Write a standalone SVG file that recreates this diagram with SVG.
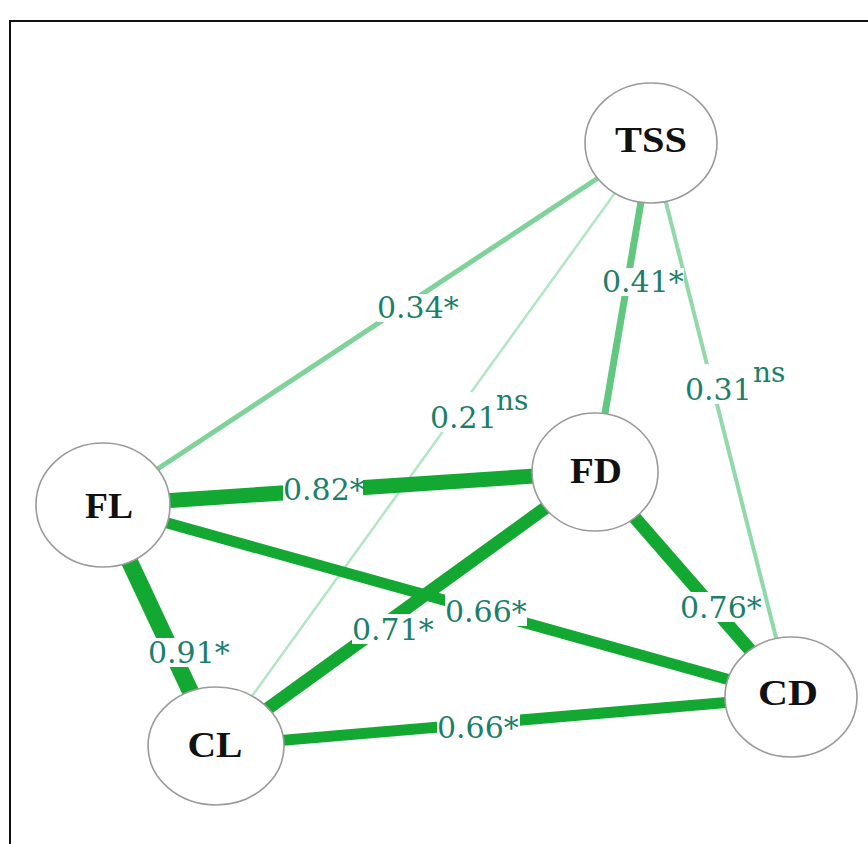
<svg xmlns="http://www.w3.org/2000/svg" width="868" height="844" viewBox="0 0 868 844">
<style>
.e{fill:none;stroke-linecap:butt}
.lbl{font-family:"DejaVu Serif","Liberation Serif",serif;font-size:30px;fill:#1b7f6b}
.sup{font-family:"DejaVu Serif","Liberation Serif",serif;font-size:28px;fill:#1b7f6b}
.bg{fill:#ffffff}
.node ellipse{fill:#ffffff;stroke:#9a9a9a;stroke-width:1.6}
.node text{font-family:"Liberation Serif","Times New Roman",serif;font-weight:bold;font-size:35px;fill:#111111;text-anchor:middle}
</style>
<rect x="0" y="0" width="868" height="844" fill="#ffffff"/>
<path d="M10,844 V21 H868" fill="none" stroke="#111111" stroke-width="2"/>
<g id="connectors">
  <line class="e" x1="651" y1="143" x2="216" y2="746" stroke="#b2e6c2" stroke-width="2.5"/>
  <line class="e" x1="651" y1="143" x2="791" y2="697" stroke="#92d9a9" stroke-width="4"/>
  <line class="e" x1="651" y1="143" x2="103" y2="505" stroke="#7fd39a" stroke-width="5"/>
  <line class="e" x1="651" y1="143" x2="595" y2="472" stroke="#62c880" stroke-width="7"/>
  <line class="e" x1="103" y1="505" x2="595" y2="472" stroke="#12a832" stroke-width="15"/>
  <line class="e" x1="103" y1="505" x2="791" y2="697" stroke="#12a832" stroke-width="11"/>
  <line class="e" x1="103" y1="505" x2="216" y2="746" stroke="#12a832" stroke-width="17"/>
  <line class="e" x1="595" y1="472" x2="216" y2="746" stroke="#12a832" stroke-width="13"/>
  <line class="e" x1="595" y1="472" x2="791" y2="697" stroke="#12a832" stroke-width="13"/>
  <line class="e" x1="216" y1="746" x2="791" y2="697" stroke="#12a832" stroke-width="11"/>
  <g id="edge-labels">
    <rect class="bg" x="377" y="294" width="83" height="28"/>
    <text class="lbl" x="377" y="318">0.34*</text>
    <rect class="bg" x="430" y="392" width="100" height="40"/>
    <text class="lbl" x="430" y="428">0.21</text>
    <text class="sup" x="496" y="410">ns</text>
    <rect class="bg" x="602" y="268" width="82" height="28"/>
    <text class="lbl" x="602" y="292">0.41*</text>
    <rect class="bg" x="685" y="364" width="101" height="40"/>
    <text class="lbl" x="685" y="400">0.31</text>
    <text class="sup" x="753" y="382">ns</text>
    <rect class="bg" x="283" y="474" width="80" height="30"/>
    <text class="lbl" x="283" y="500">0.82*</text>
    <rect class="bg" x="148" y="638" width="82" height="29"/>
    <text class="lbl" x="148" y="663">0.91*</text>
    <rect class="bg" x="352" y="614" width="83" height="30"/>
    <text class="lbl" x="352" y="640">0.71*</text>
    <rect class="bg" x="445" y="595" width="82" height="31"/>
    <text class="lbl" x="445" y="622">0.66*</text>
    <rect class="bg" x="680" y="592" width="82" height="30"/>
    <text class="lbl" x="680" y="618">0.76*</text>
    <rect class="bg" x="437" y="712" width="83" height="30"/>
    <text class="lbl" x="437" y="738">0.66*</text>
  </g>
</g>
<g id="node-TSS" class="node">
  <ellipse cx="651" cy="143" rx="66" ry="60"/>
  <text x="651" y="152" textLength="72" lengthAdjust="spacingAndGlyphs">TSS</text>
</g>
<g id="node-FL" class="node">
  <ellipse cx="103" cy="505" rx="67" ry="62"/>
  <text x="109" y="518" textLength="48" lengthAdjust="spacingAndGlyphs">FL</text>
</g>
<g id="node-FD" class="node">
  <ellipse cx="595" cy="472" rx="63" ry="59"/>
  <text x="596" y="483" textLength="52" lengthAdjust="spacingAndGlyphs">FD</text>
</g>
<g id="node-CL" class="node">
  <ellipse cx="216" cy="746" rx="68" ry="59"/>
  <text x="215" y="757" textLength="55" lengthAdjust="spacingAndGlyphs">CL</text>
</g>
<g id="node-CD" class="node">
  <ellipse cx="791" cy="697" rx="66" ry="60"/>
  <text x="788" y="705" textLength="60" lengthAdjust="spacingAndGlyphs">CD</text>
</g>
</svg>
